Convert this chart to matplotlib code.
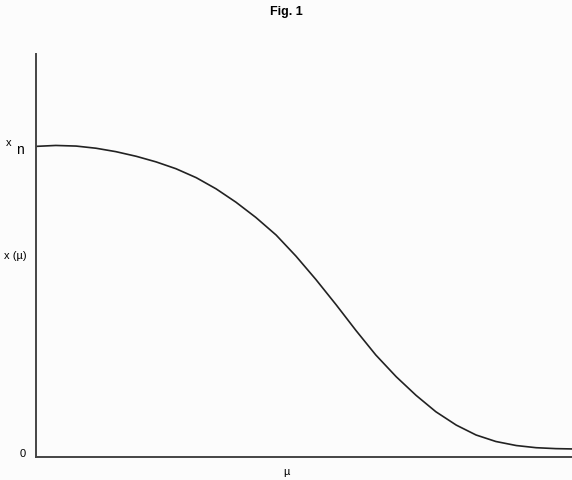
import matplotlib.pyplot as plt

# curve: mu from 0 to 1, x scaled so that x_n = 1
mu = [0.0, 0.037, 0.075, 0.112, 0.149, 0.187, 0.224, 0.261, 0.299, 0.336,
      0.373, 0.410, 0.448, 0.485, 0.522, 0.560, 0.597, 0.634, 0.672, 0.709,
      0.746, 0.784, 0.821, 0.858, 0.896, 0.933, 0.970, 1.0]
x_mu = [1.002, 1.005, 1.003, 0.996, 0.985, 0.970, 0.952, 0.930, 0.901, 0.865,
        0.822, 0.773, 0.716, 0.648, 0.573, 0.491, 0.408, 0.329, 0.259, 0.199,
        0.146, 0.103, 0.071, 0.050, 0.037, 0.030, 0.027, 0.026]

plt.rcParams['font.family'] = ['Liberation Sans', 'DejaVu Sans']

fig = plt.figure(figsize=(5.72, 4.81), dpi=100)
fig.patch.set_facecolor('#fcfcfc')
ax = fig.add_axes([36 / 572, 23 / 481, 536 / 572, 403 / 481])
ax.set_facecolor('#fcfcfc')

ax.plot(mu, x_mu, color='#222222', lw=1.2, solid_joinstyle='round')

ax.set_xlim(0, 1)
ax.set_ylim(0, 1.30)
for s in ['top', 'right']:
    ax.spines[s].set_visible(False)
for s in ['left', 'bottom']:
    ax.spines[s].set_color('#444444')
    ax.spines[s].set_linewidth(1.4)
ax.set_xticks([])
ax.set_yticks([])

# labels placed at pixel positions of the figure
W, H = 572, 481
fig.text(286 / W, 1 - 12 / H, 'Fig. 1', ha='center', va='center',
         fontsize=9, fontweight='bold')
fig.text(9 / W, 1 - 143 / H, 'x', ha='center', va='center', fontsize=8)
fig.text(20 / W, 1 - 150 / H, 'n', ha='center', va='center', fontsize=10)
fig.text(15 / W, 1 - 256 / H, 'x (\u00b5)', ha='center', va='center', fontsize=8)
fig.text(23 / W, 1 - 454 / H, '0', ha='center', va='center', fontsize=8)
fig.text(286 / W, 1 - 472 / H, '\u00b5', ha='center', va='center', fontsize=8)

fig.savefig('out.png', dpi=100)
